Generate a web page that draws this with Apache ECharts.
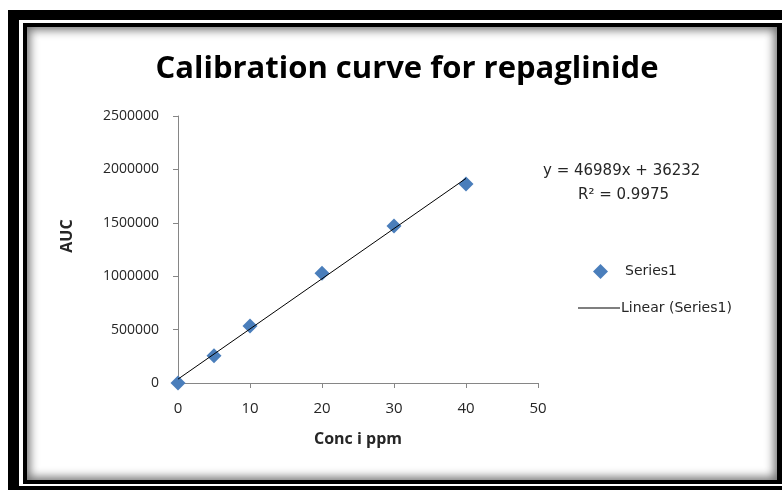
<!DOCTYPE html>
<html>
<head>
<meta charset="utf-8">
<script src="https://cdn.jsdelivr.net/npm/echarts@6/dist/echarts.min.js"></script>
<style>
  html, body { margin: 0; padding: 0; background: #fff; overflow: hidden; }
  #frame { position: absolute; left: 0; top: 0; width: 782px; height: 490px; overflow: hidden; }
  .blk { position: absolute; background: #000; }
  .wht { position: absolute; background: #fff; }
  #inner { position: absolute; left: 27px; top: 27px; width: 750px; height: 453px; background: #fff;
           box-shadow: inset 0 0 10px 3px rgba(0,0,0,0.55); }
  #chart { position: absolute; left: 0; top: 0; width: 782px; height: 490px; }
</style>
</head>
<body>
<div id="frame">
  <div class="blk" style="left:8px;top:10px;width:800px;height:500px;"></div>
  <div class="wht" style="left:19px;top:20px;width:800px;height:466px;"></div>
  <div class="blk" style="left:23px;top:23px;width:800px;height:461px;"></div>
  <div id="inner"></div>
</div>
<div id="chart"></div>
<script>
var concValues = [0, 5, 10, 20, 30, 40];
var aucValues = [0, 255000, 533000, 1027000, 1470000, 1863000];
var xTicks = [0, 10, 20, 30, 40, 50];
var yTicks = [0, 500000, 1000000, 1500000, 2000000, 2500000];
var trendSlope = 46989;
var trendIntercept = 36232;
var trendText = ['y = 46989x + 36232', 'R\u00b2 = 0.9975'];

var pts = [];
for (var i = 0; i < concValues.length; i++) {
  pts.push([concValues[i], aucValues[i]]);
}
var xFirst = concValues[0], xLast = concValues[concValues.length - 1];
var trendPts = [
  [xFirst, trendSlope * xFirst + trendIntercept],
  [xLast, trendSlope * xLast + trendIntercept]
];

var font = 'Open Sans';
var wideFont = 'DejaVu Sans';
var axisColor = '#868686';
var textColor = '#262626';

var chart = echarts.init(document.getElementById('chart'));
chart.setOption({
  animation: false,
  backgroundColor: 'transparent',
  title: {
    text: 'Calibration curve for repaglinide',
    left: 402, top: 49, textAlign: 'center',
    textStyle: { fontFamily: font, fontWeight: 'bold', fontSize: 31, color: '#000' }
  },
  grid: { left: 178, right: 244, top: 116, bottom: 107 },
  xAxis: {
    type: 'value', min: xTicks[0], max: xTicks[xTicks.length - 1], interval: 10,
    name: 'Conc i ppm', nameLocation: 'middle', nameGap: 48,
    nameTextStyle: { fontFamily: font, fontWeight: 'bold', fontSize: 16, color: textColor },
    axisLine: { lineStyle: { color: axisColor, width: 1 } },
    axisTick: { show: true, length: 5, lineStyle: { color: axisColor } },
    axisLabel: { margin: 18, fontFamily: font, fontSize: 15, color: textColor },
    splitLine: { show: false }
  },
  yAxis: {
    type: 'value', min: yTicks[0], max: yTicks[yTicks.length - 1], interval: 500000,
    axisLine: { show: true, lineStyle: { color: axisColor, width: 1 } },
    axisTick: { show: true, length: 5, lineStyle: { color: axisColor } },
    axisLabel: { margin: 19, fontFamily: font, fontSize: 14, color: textColor,
                 formatter: function (v) { return String(v); } },
    splitLine: { show: false }
  },
  legend: [{
    orient: 'vertical', left: 588, top: 259,
    itemWidth: 15, itemHeight: 15,
    data: [{ name: 'Series1', icon: 'diamond' }],
    textStyle: { fontFamily: wideFont, fontSize: 14, color: textColor, padding: [0, 0, 0, 12] }
  }, {
    orient: 'vertical', left: 573, top: 296,
    itemWidth: 42, itemHeight: 15, itemGap: 0,
    data: [{ name: 'Linear (Series1)', icon: 'path://M0,7L42,7L42,8L0,8Z' }],
    textStyle: { fontFamily: wideFont, fontSize: 14, color: textColor, padding: [0, 0, 0, -4] }
  }],
  graphic: [{
    type: 'text', x: 67, y: 236, rotation: Math.PI / 2,
    style: { text: 'AUC', fontFamily: font, fontWeight: 'bold', fontSize: 16, fill: textColor,
             align: 'center', verticalAlign: 'middle' }
  }, {
    type: 'text', left: 543, top: 164,
    style: { text: trendText[0], fontFamily: wideFont, fontSize: 15, fill: textColor }
  }, {
    type: 'text', left: 578, top: 188,
    style: { text: trendText[1], fontFamily: wideFont, fontSize: 15, fill: textColor }
  }],
  series: [{
    name: 'Linear (Series1)', type: 'line', data: trendPts,
    symbol: 'none', z: 3,
    lineStyle: { color: '#000', width: 1 },
    itemStyle: { color: '#000' }
  }, {
    name: 'Series1', type: 'scatter', data: pts,
    symbol: 'diamond', symbolSize: 15, z: 2,
    itemStyle: { color: '#4A7EBB', opacity: 1 }
  }]
});
</script>
</body>
</html>
